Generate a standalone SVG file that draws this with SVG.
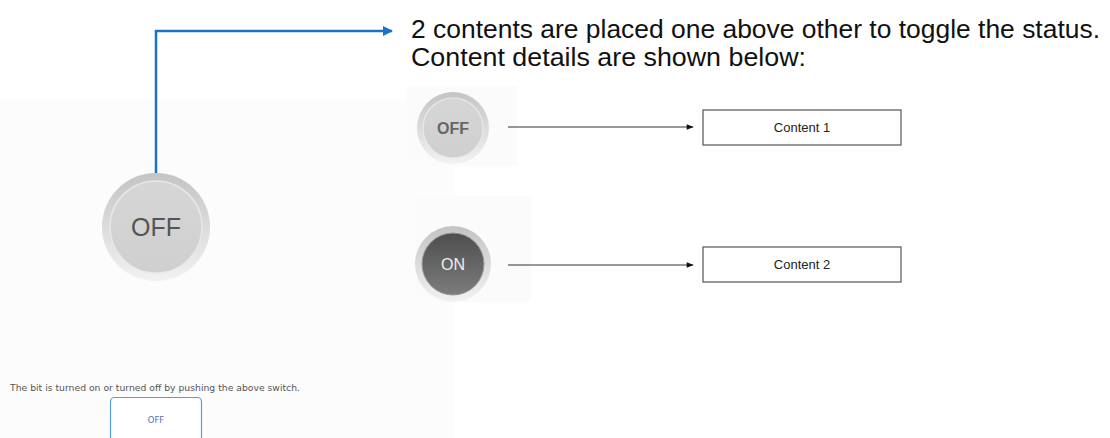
<svg xmlns="http://www.w3.org/2000/svg" width="1110" height="438" viewBox="0 0 1110 438">
<defs>
<style>
.title{font-family:"Liberation Sans",Arial,sans-serif;font-size:25px;fill:#111}
.box{fill:#fff;stroke:#555;stroke-width:1.2}
.boxt{font-family:"Liberation Sans",Arial,sans-serif;font-size:13px;fill:#222;text-anchor:middle}
.conn{stroke:#333;stroke-width:1;fill:none}
.blue{stroke:#1a73c8;stroke-width:2.5;fill:none}
.small{font-family:"DejaVu Sans",sans-serif;font-size:9px;fill:#555}
</style>
<linearGradient id="ring" x1="0" y1="0" x2="0" y2="1">
<stop offset="0" stop-color="#c4c4c4"/>
<stop offset="1" stop-color="#f2f2f2"/>
</linearGradient>
<linearGradient id="faceOff" x1="0" y1="0" x2="0" y2="1">
<stop offset="0" stop-color="#d6d6d6"/>
<stop offset="1" stop-color="#cfcfcf"/>
</linearGradient>
<linearGradient id="faceOn" x1="0" y1="0" x2="0" y2="1">
<stop offset="0" stop-color="#4e4e4e"/>
<stop offset="1" stop-color="#7c7c7c"/>
</linearGradient>
<marker id="ab" viewBox="0 0 10 10" refX="9" refY="5" markerWidth="4" markerHeight="4" orient="auto" markerUnits="strokeWidth">
<path d="M0,0 L10,5 L0,10 z" fill="#1a73c8"/>
</marker>
<marker id="ak" viewBox="0 0 10 10" refX="9" refY="5" markerWidth="8" markerHeight="7" orient="auto" markerUnits="strokeWidth">
<path d="M0,1 L10,5 L0,9 z" fill="#111"/>
</marker>
</defs>
<rect width="1110" height="438" fill="#fff"/>
<rect x="0" y="100" width="455" height="338" fill="#fcfcfc"/>
<rect x="407" y="86" width="110" height="80" fill="#fbfbfb"/>
<rect x="413" y="196" width="118" height="106" fill="#fbfbfb"/>

<g id="connectors">
<path class="blue" d="M156,174 V31 H392" marker-end="url(#ab)"/>
<line class="conn" x1="508" y1="127" x2="693" y2="127" marker-end="url(#ak)"/>
<line class="conn" x1="508" y1="265" x2="693" y2="265" marker-end="url(#ak)"/>
</g>

<g id="bigOff">
<circle cx="156" cy="227" r="54" fill="url(#ring)"/>
<circle cx="156" cy="227" r="46" fill="url(#faceOff)" stroke="#e8e8e8" stroke-width="1.5"/>
<text x="156" y="236" font-family="Liberation Sans,Arial,sans-serif" font-size="25" fill="#555" text-anchor="middle">OFF</text>
</g>

<g id="title">
<text class="title" x="411" y="38" textLength="689" lengthAdjust="spacingAndGlyphs">2 contents are placed one above other to toggle the status.</text>
<text class="title" x="411" y="66" textLength="395" lengthAdjust="spacingAndGlyphs">Content details are shown below:</text>
</g>

<g id="smallOff">
<circle cx="453" cy="128" r="36" fill="url(#ring)"/>
<circle cx="453" cy="128" r="30" fill="url(#faceOff)" stroke="#e8e8e8" stroke-width="1.2"/>
<text x="453" y="134" font-family="Liberation Sans,Arial,sans-serif" font-size="16" font-weight="bold" fill="#666" text-anchor="middle">OFF</text>
</g>

<g id="onBtn">
<circle cx="453" cy="264" r="38" fill="url(#ring)"/>
<circle cx="453" cy="264" r="31" fill="url(#faceOn)" stroke="#999" stroke-width="1"/>
<text x="453" y="270" font-family="Liberation Sans,Arial,sans-serif" font-size="16" fill="#eee" text-anchor="middle">ON</text>
</g>

<g id="content1">
<rect class="box" x="703" y="110" width="198" height="35"/>
<text class="boxt" x="802" y="132">Content 1</text>
</g>

<g id="content2">
<rect class="box" x="703" y="247" width="198" height="35"/>
<text class="boxt" x="802" y="269">Content 2</text>
</g>

<g id="caption">
<text class="small" x="10" y="391" textLength="290" lengthAdjust="spacingAndGlyphs">The bit is turned on or turned off by pushing the above switch.</text>
</g>

<g id="offButton">
<rect x="110.5" y="397.5" width="91" height="50" rx="4" fill="#fff" stroke="#5b9be0" stroke-width="1.2"/>
<text x="156" y="423" font-family="DejaVu Sans,sans-serif" font-size="8.5" fill="#5a70a8" text-anchor="middle">OFF</text>
</g>
</svg>
